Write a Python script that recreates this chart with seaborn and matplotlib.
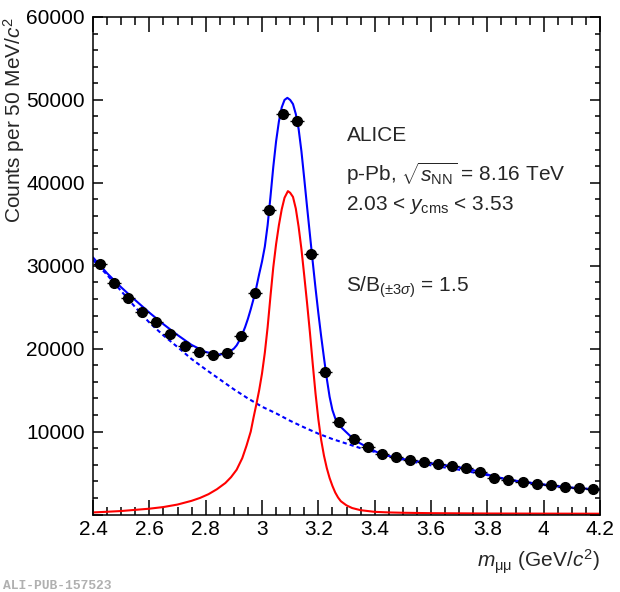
"""J/psi invariant mass spectrum, p-Pb 8.16 TeV (ALICE style)"""
import matplotlib
matplotlib.use('Agg')
import matplotlib.pyplot as plt
from matplotlib.ticker import MultipleLocator, FuncFormatter
import seaborn as sns

# measured points: bin centre (GeV/c^2), counts per 50 MeV/c^2
mass_bins = [2.425, 2.475, 2.525, 2.575, 2.625, 2.675, 2.725, 2.775, 2.825, 2.875,
             2.925, 2.975, 3.025, 3.075, 3.125, 3.175, 3.225, 3.275, 3.325, 3.375,
             3.425, 3.475, 3.525, 3.575, 3.625, 3.675, 3.725, 3.775, 3.825, 3.875,
             3.925, 3.975, 4.025, 4.075, 4.125, 4.175]
counts = [30170, 27950, 26170, 24430, 23160, 21760, 20370, 19570, 19290, 19470,
          21490, 26680, 36780, 48250, 47430, 31470, 17160, 11150, 9080, 8150,
          7280, 6880, 6600, 6320, 6080, 5840, 5640, 5130, 4450, 4210,
          3970, 3730, 3510, 3270, 3210, 3090]
bin_halfwidth = 0.025

# total fit
fit_x = [2.40, 2.45, 2.50, 2.55, 2.60, 2.65, 2.70, 2.75, 2.80, 2.84,
         2.86, 2.88, 2.90, 2.91, 2.92, 2.93, 2.94, 2.95, 2.96, 2.97,
         2.98, 2.99, 3.00, 3.01, 3.02, 3.03, 3.04, 3.05, 3.06, 3.07,
         3.08, 3.09, 3.10, 3.11, 3.12, 3.13, 3.14, 3.15, 3.16, 3.17,
         3.18, 3.19, 3.20, 3.21, 3.22, 3.23, 3.24, 3.25, 3.26, 3.27,
         3.28, 3.30, 3.33, 3.372, 3.419, 3.475, 3.525, 3.575, 3.625, 3.675,
         3.725, 3.775, 3.825, 3.875, 3.925, 3.975, 4.025, 4.075, 4.125, 4.20]
fit_y = [31000, 29100, 27400, 25850, 24350, 22950, 21650, 20450, 19600, 19300,
         19330, 19550, 20000, 20400, 21000, 21750, 22600, 23600, 24750, 26000,
         27400, 29000, 30500, 32300, 34900, 38300, 41900, 45000, 47400, 49100,
         50000, 50250, 50000, 49500, 48300, 46500, 43800, 40500, 37100, 33800,
         30500, 27300, 24300, 21500, 18900, 16400, 14200, 12600, 11600, 11000,
         10550, 9900, 8930, 8140, 7330, 6850, 6550, 6300, 6070, 5830,
         5560, 5130, 4550, 4200, 3960, 3730, 3510, 3300, 3170, 3000]

# background
bkg_x = [2.40, 2.45, 2.50, 2.55, 2.60, 2.65, 2.70, 2.75, 2.80, 2.85,
         2.90, 2.95, 3.00, 3.05, 3.10, 3.15, 3.20, 3.25, 3.30, 3.35,
         3.40, 3.45, 3.50, 3.60, 3.70, 3.80, 3.90, 4.00, 4.10, 4.20]
bkg_y = [30700, 28900, 26950, 25000, 23150, 21600, 20200, 18750, 17500, 16300,
         15100, 14000, 13000, 12200, 11300, 10500, 9750, 9100, 8550, 8000,
         7550, 7050, 6600, 5930, 5400, 4750, 4050, 3580, 3220, 2950]

# J/psi signal
sig_x = [2.40, 2.45, 2.50, 2.55, 2.60, 2.65, 2.70, 2.75, 2.78, 2.81,
         2.84, 2.87, 2.89, 2.91, 2.93, 2.945, 2.96, 2.97, 2.98, 2.99,
         3.00, 3.01, 3.02, 3.03, 3.04, 3.05, 3.06, 3.07, 3.08, 3.092,
         3.10, 3.11, 3.12, 3.13, 3.14, 3.15, 3.16, 3.17, 3.18, 3.19,
         3.20, 3.21, 3.22, 3.23, 3.24, 3.25, 3.26, 3.27, 3.28, 3.30,
         3.32, 3.35, 3.40, 3.45, 3.50, 3.60, 3.80, 4.00, 4.20]
sig_y = [250, 330, 420, 560, 700, 900, 1200, 1650, 2000, 2450,
         3050, 3800, 4500, 5400, 6800, 8300, 10000, 11700, 13300, 15000,
         17000, 19500, 22600, 26300, 29800, 32600, 34900, 36800, 38200, 39000,
         38800, 38300, 36900, 34700, 32000, 28800, 25500, 22000, 18200, 14600,
         11500, 9000, 7100, 5600, 4400, 3450, 2650, 2050, 1600, 1100,
         780, 520, 320, 250, 210, 160, 120, 105, 95]

sns.set_theme(style='ticks')
plt.rcParams['font.family'] = ['Liberation Sans', 'DejaVu Sans']
plt.rcParams['mathtext.fontset'] = 'custom'
plt.rcParams['mathtext.rm'] = 'Liberation Sans'
plt.rcParams['mathtext.it'] = 'Liberation Sans:italic'
plt.rcParams['mathtext.bf'] = 'Liberation Sans:bold'

fig = plt.figure(figsize=(6.2, 5.92), dpi=100)
ax = fig.add_axes([93 / 620, 1 - 514.5 / 592, 507 / 620, 497.5 / 592])

sns.lineplot(x=bkg_x, y=bkg_y, ax=ax, color='#0000ff', lw=1.5,
             linestyle=(0, (2, 1.5)), estimator=None, sort=False)
sns.lineplot(x=sig_x, y=sig_y, ax=ax, color='#ff0000', lw=1.5,
             estimator=None, sort=False)
sns.lineplot(x=fit_x, y=fit_y, ax=ax, color='#0000ff', lw=1.5,
             estimator=None, sort=False)
ax.errorbar(mass_bins, counts, xerr=bin_halfwidth, fmt='o', color='black',
            ms=7, elinewidth=1, capsize=0, zorder=5)

ax.set_xlim(2.4, 4.2)
ax.set_ylim(0, 60000)
ax.xaxis.set_major_locator(MultipleLocator(0.2))
ax.xaxis.set_minor_locator(MultipleLocator(0.05))
ax.yaxis.set_major_locator(MultipleLocator(10000))
ax.yaxis.set_minor_locator(MultipleLocator(2000))
ax.xaxis.set_major_formatter(FuncFormatter(lambda v, p: f'{v:g}'))
ax.yaxis.set_major_formatter(FuncFormatter(lambda v, p: '' if v == 0 else f'{v:.0f}'))

ax.tick_params(axis='both', which='both', direction='in', top=True, right=True,
               labelsize=15, colors='black', width=1.1)
ax.tick_params(axis='x', which='major', length=11, pad=4)
ax.tick_params(axis='x', which='minor', length=5.8)
ax.tick_params(axis='y', which='major', length=7.5, pad=6)
ax.tick_params(axis='y', which='minor', length=3.8)
for sp in ax.spines.values():
    sp.set_linewidth(1.1)
    sp.set_color('black')

ax.set_ylabel(r'Counts per 50 MeV/$c^{2}$', fontsize=15, loc='top')
ax.yaxis.set_label_coords(-0.130, 1.0)
ax.set_xlabel(r'$m_{\mathrm{\mu\mu}}$ (GeV/$c^{2}$)', fontsize=15, loc='right')
ax.xaxis.set_label_coords(1.0, -0.066)

tx = 0.5
ax.text(tx, 0.7515, 'ALICE', transform=ax.transAxes, fontsize=15, va='baseline')
ax.text(tx, 0.670, r'p-Pb, $\sqrt{s_{\mathrm{NN}}}$ = 8.16 TeV', transform=ax.transAxes,
        fontsize=15, va='baseline')
ax.text(tx, 0.613, r'2.03 < $y_{\mathrm{cms}}$ < 3.53', transform=ax.transAxes,
        fontsize=15, va='baseline')
ax.text(tx, 0.4475, r'S/B$_{(\pm3\sigma)}$ = 1.5', transform=ax.transAxes,
        fontsize=15, va='baseline')

fig.text(0.005, 0.005, 'ALI-PUB-157523', family=['Liberation Mono', 'DejaVu Sans Mono'],
         fontsize=9.4, color='#b0b0b0', weight='bold', va='baseline')

fig.savefig('out.png', dpi=100)
plt.close(fig)
